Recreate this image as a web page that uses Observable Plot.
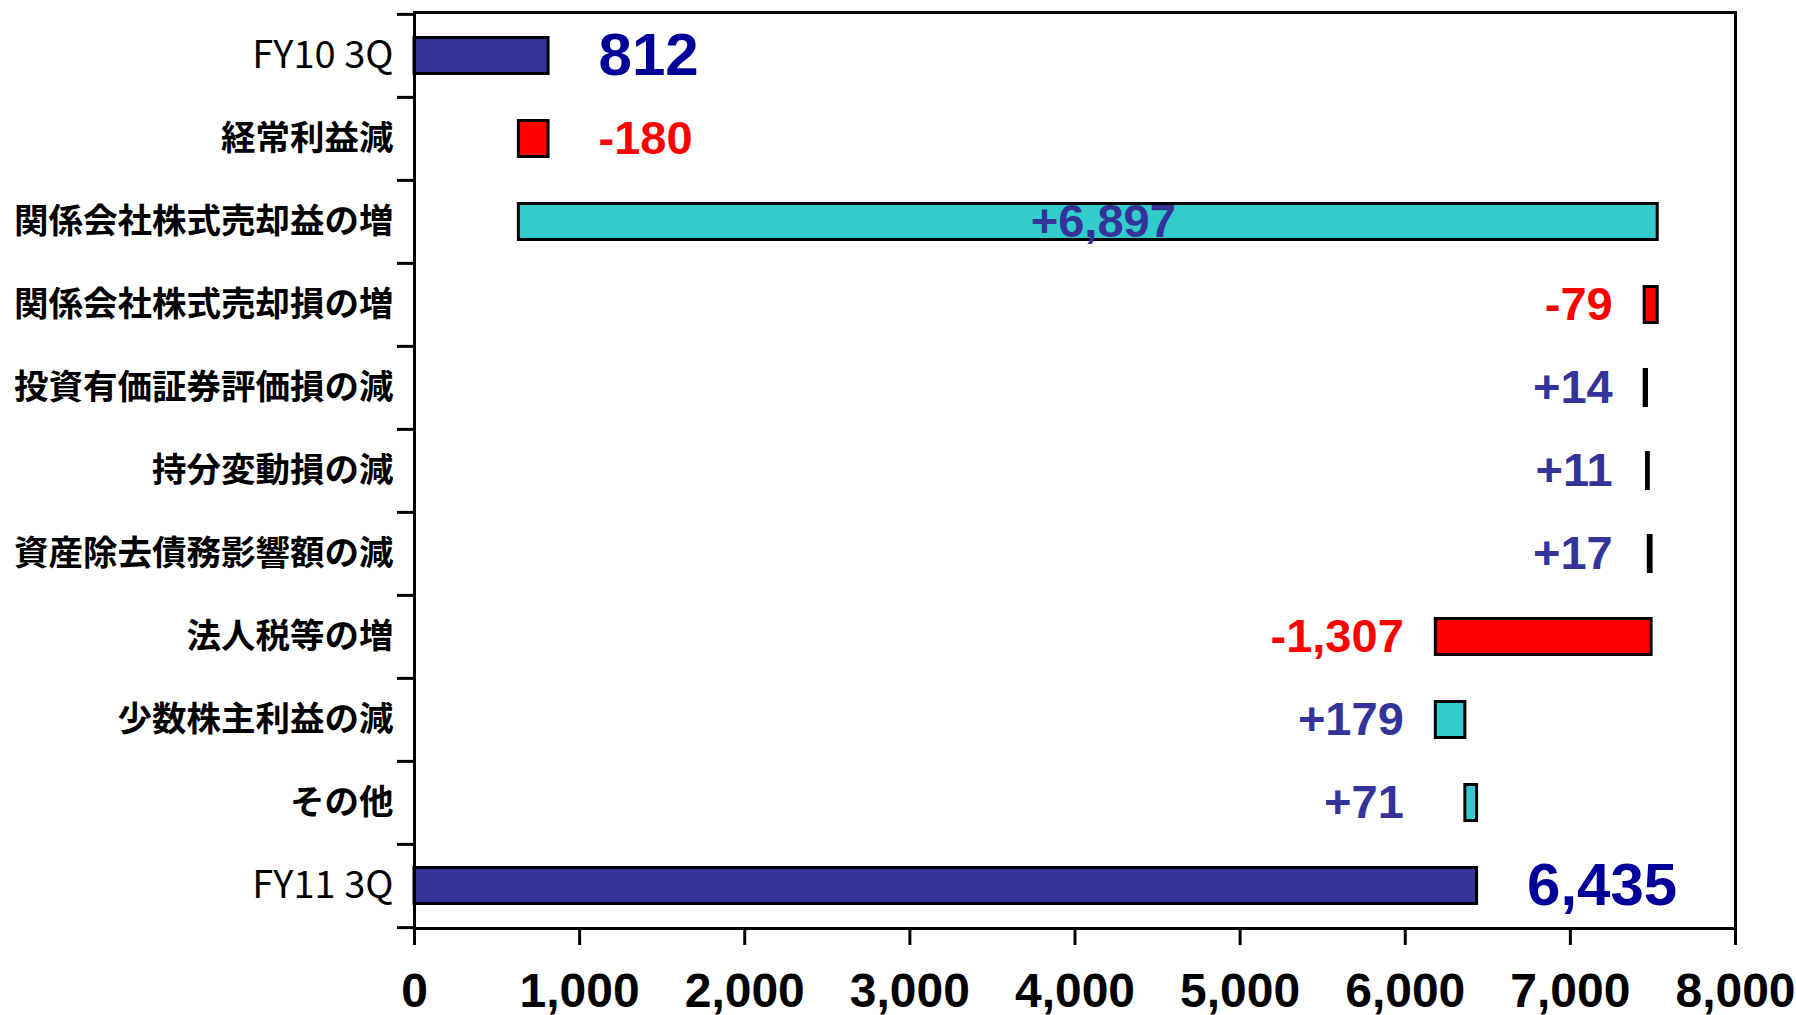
<!DOCTYPE html>
<html>
<head>
<meta charset="utf-8">
<script src="https://cdn.jsdelivr.net/npm/d3@7"></script>
<script src="https://cdn.jsdelivr.net/npm/@observablehq/plot@0.6"></script>
<style>
  html, body { margin: 0; padding: 0; background: #fff; }
  #chart svg { display: block; }
</style>
</head>
<body>
<div id="chart"></div>
<script>
// Categories (top to bottom)
const categories = [
  "FY10 3Q",
  "経常利益減",
  "関係会社株式売却益の増",
  "関係会社株式売却損の増",
  "投資有価証券評価損の減",
  "持分変動損の減",
  "資産除去債務影響額の減",
  "法人税等の増",
  "少数株主利益の減",
  "その他",
  "FY11 3Q"
];
// Values: first and last are totals, the others are changes
const values = [812, -180, 6897, -79, 14, 11, 17, -1307, 179, 71, 6435];
const xTicks = [0, 1000, 2000, 3000, 4000, 5000, 6000, 7000, 8000];

const W = 1796, H = 1015;
const mL = 414, mR = 61, mT = 12, mB = 87;
const plotW = W - mL - mR;
const step = (H - mT - mB) / categories.length;

const locale = d3.formatLocale({decimal: ".", thousands: ",", grouping: [3], currency: ["", ""], minus: "-"});
const fmt = locale.format(",");

// Build waterfall rows
const maxDelta = d3.max(values.slice(1, -1), v => Math.abs(v));
let run = 0;
const rows = categories.map((cat, i) => {
  const v = values[i];
  const total = i === 0 || i === categories.length - 1;
  let x1, x2;
  if (total) { x1 = 0; x2 = v; run = v; }
  else { x1 = run; x2 = run + v; run = x2; }
  const side = total || i === 1 ? "right" : (Math.abs(v) === maxDelta ? "inside" : "left");
  return {
    cat, v, total, x1, x2,
    lo: Math.min(x1, x2), hi: Math.max(x1, x2),
    mid: (x1 + x2) / 2,
    side,
    color: total ? "#333399" : (v < 0 ? "#ff0000" : "#33cccc"),
    labelColor: total ? "#000099" : (v < 0 ? "#ff0000" : "#333399"),
    label: total ? fmt(v) : (v > 0 ? "+" : "") + fmt(v)
  };
});
// left-side labels line up with the start of the preceding left-labelled bar
rows.forEach((d, i) => {
  const p = rows[i - 1];
  d.labelX = d.side === "left" && p && p.side === "left" ? Math.min(d.lo, p.labelX) : d.lo;
});

const jpCats = categories.filter(c => !c.startsWith("FY"));
const fyCats = categories.filter(c => c.startsWith("FY"));
const numFont = "'Liberation Sans', Arial, sans-serif";
const jpFont = "'Noto Sans CJK JP', 'Noto Sans', sans-serif";

const chart = Plot.plot({
  width: W,
  height: H,
  marginLeft: mL,
  marginRight: mR,
  marginTop: mT,
  marginBottom: mB,
  style: { background: "#fff", overflow: "visible" },
  x: { domain: [0, 8000], axis: null },
  y: { domain: categories, padding: 0, axis: null },
  marks: [
    Plot.barX(rows, {
      y: "cat", x1: "x1", x2: "x2",
      fill: "color", stroke: "#000", strokeWidth: 3,
      insetTop: 23.5, insetBottom: 23.5
    }),
    Plot.frame({ stroke: "#000", strokeWidth: 3 }),
    // x axis
    Plot.axisX({
      ticks: xTicks, tickSize: 17, tickPadding: 27,
      tickFormat: fmt, strokeWidth: 3, stroke: "#000",
      fontSize: 48, fontWeight: "bold", fontFamily: numFont, fill: "#000",
      label: null
    }),
    // y axis category labels
    Plot.axisY({
      ticks: jpCats, tickSize: 0, tickPadding: 21,
      fontSize: 34.5, fontWeight: "bold", fontFamily: jpFont, fill: "#000",
      label: null
    }),
    Plot.axisY({
      ticks: fyCats, tickSize: 0, tickPadding: 21,
      fontSize: 38, fontWeight: "normal", fontFamily: jpFont, fill: "#000",
      label: null
    }),
    // y axis ticks at category boundaries
    Plot.tickY(categories, {
      y: d => d, dy: -step / 2, insetLeft: -17, insetRight: plotW,
      stroke: "#000", strokeWidth: 3
    }),
    Plot.tickY(categories.slice(-1), {
      y: d => d, dy: step / 2, insetLeft: -17, insetRight: plotW,
      stroke: "#000", strokeWidth: 3
    }),
    // value labels
    Plot.text(rows.filter(d => d.side === "right"), {
      y: "cat", x: "hi", text: "label", fill: "labelColor",
      textAnchor: "start", dx: 50,
      fontSize: d => d.total ? 60 : 47,
      fontWeight: "bold", fontFamily: numFont
    }),
    Plot.text(rows.filter(d => d.side === "inside"), {
      y: "cat", x: "mid", text: "label", fill: "labelColor",
      textAnchor: "middle", dx: 15, fontSize: 47, fontWeight: "bold", fontFamily: numFont
    }),
    Plot.text(rows.filter(d => d.side === "left"), {
      y: "cat", x: "labelX", text: "label", fill: "labelColor",
      textAnchor: "end", dx: -32, fontSize: 47, fontWeight: "bold", fontFamily: numFont
    })
  ]
});

document.getElementById("chart").appendChild(chart);
</script>
</body>
</html>
